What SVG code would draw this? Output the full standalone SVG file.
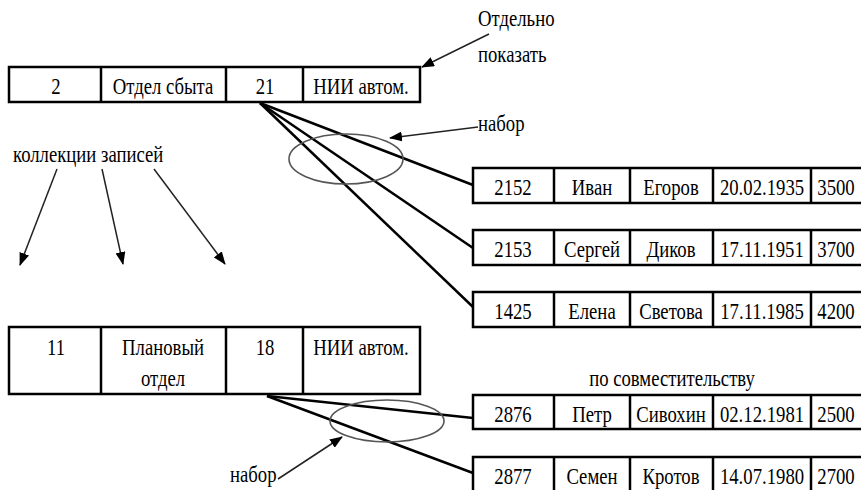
<svg xmlns="http://www.w3.org/2000/svg" width="861" height="490" viewBox="0 0 861 490" font-family="Liberation Serif, serif" font-size="24">
<style>
.cell{fill:#fff;stroke:#000;stroke-width:2.5}
.div{stroke:#000;stroke-width:2.5}
.t{text-anchor:middle;fill:#000}
.l{text-anchor:start;fill:#000}
.link{stroke:#000;stroke-width:2.5;fill:none}
.arr{stroke:#222;stroke-width:1.5;fill:none;marker-end:url(#ah)}
.ell{stroke:#555;stroke-width:1.6;fill:none}
</style>
<defs>
<marker id="ah" viewBox="0 0 13 10" refX="12" refY="5" markerWidth="13" markerHeight="10" markerUnits="userSpaceOnUse" orient="auto">
<path d="M0,0 L13,5 L0,10 z" fill="#000"/>
</marker>
</defs>
<rect width="861" height="490" fill="#fff"/>

<g id="connectors">
<line class="link" x1="260" y1="103" x2="473" y2="185"/>
<line class="link" x1="260" y1="103" x2="473" y2="248"/>
<line class="link" x1="260" y1="103" x2="473" y2="307"/>
<line class="link" x1="267" y1="396" x2="473" y2="418"/>
<line class="link" x1="267" y1="396" x2="473" y2="473"/>
<line class="arr" x1="489" y1="34" x2="422" y2="67"/>
<line class="arr" x1="478" y1="127" x2="390" y2="138"/>
<line class="arr" x1="57" y1="169" x2="20" y2="265"/>
<line class="arr" x1="102" y1="169" x2="123" y2="264"/>
<line class="arr" x1="154" y1="169" x2="225" y2="264"/>
<line class="arr" x1="278" y1="479" x2="342" y2="437"/>
</g>

<g id="set1">
<ellipse class="ell" cx="346" cy="159" rx="57" ry="25"/>
</g>
<g id="set2">
<ellipse class="ell" cx="387" cy="421" rx="57" ry="21"/>
</g>

<g id="labels" font-family="Liberation Serif, serif" font-size="24">
<text class="l" transform="translate(478,26) scale(0.78,1)">Отдельно</text>
<text class="l" transform="translate(478,62) scale(0.78,1)">показать</text>
<text class="l" transform="translate(478,131) scale(0.78,1)">набор</text>
<text class="l" transform="translate(13,162) scale(0.78,1)">коллекции записей</text>
<text class="t" transform="translate(672,386) scale(0.78,1)">по совместительству</text>
<text class="l" transform="translate(230,482) scale(0.78,1)">набор</text>
</g>

<g id="dept1" font-family="Liberation Serif, serif" font-size="24">
<rect class="cell" x="9" y="67" width="411" height="35"/>
<line class="div" x1="101" y1="67" x2="101" y2="102"/>
<line class="div" x1="226" y1="67" x2="226" y2="102"/>
<line class="div" x1="303" y1="67" x2="303" y2="102"/>
<text class="t" transform="translate(56,94) scale(0.78,1)">2</text>
<text class="t" transform="translate(163,94) scale(0.78,1)">Отдел сбыта</text>
<text class="t" transform="translate(265,94) scale(0.78,1)">21</text>
<text class="t" transform="translate(361,94) scale(0.78,1)">НИИ автом.</text>
</g>

<g id="dept2" font-family="Liberation Serif, serif" font-size="24">
<rect class="cell" x="9" y="327" width="411" height="67"/>
<line class="div" x1="101" y1="327" x2="101" y2="394"/>
<line class="div" x1="226" y1="327" x2="226" y2="394"/>
<line class="div" x1="303" y1="327" x2="303" y2="394"/>
<text class="t" transform="translate(56,355) scale(0.78,1)">11</text>
<text class="t" transform="translate(163,355) scale(0.78,1)">Плановый</text>
<text class="t" transform="translate(163,386) scale(0.78,1)">отдел</text>
<text class="t" transform="translate(265,355) scale(0.78,1)">18</text>
<text class="t" transform="translate(361,355) scale(0.78,1)">НИИ автом.</text>
</g>

<g id="emp1" font-family="Liberation Serif, serif" font-size="24">
<rect class="cell" x="473" y="168" width="400" height="35"/>
<line class="div" x1="554" y1="168" x2="554" y2="203"/>
<line class="div" x1="630" y1="168" x2="630" y2="203"/>
<line class="div" x1="713" y1="168" x2="713" y2="203"/>
<line class="div" x1="811" y1="168" x2="811" y2="203"/>
<text class="t" transform="translate(513,195) scale(0.78,1)">2152</text>
<text class="t" transform="translate(592,195) scale(0.78,1)">Иван</text>
<text class="t" transform="translate(671,195) scale(0.78,1)">Егоров</text>
<text class="t" transform="translate(762,195) scale(0.78,1)">20.02.1935</text>
<text class="t" transform="translate(836,195) scale(0.78,1)">3500</text>
</g>

<g id="emp2" font-family="Liberation Serif, serif" font-size="24">
<rect class="cell" x="473" y="230" width="400" height="35"/>
<line class="div" x1="554" y1="230" x2="554" y2="265"/>
<line class="div" x1="630" y1="230" x2="630" y2="265"/>
<line class="div" x1="713" y1="230" x2="713" y2="265"/>
<line class="div" x1="811" y1="230" x2="811" y2="265"/>
<text class="t" transform="translate(513,257) scale(0.78,1)">2153</text>
<text class="t" transform="translate(592,257) scale(0.78,1)">Сергей</text>
<text class="t" transform="translate(671,257) scale(0.78,1)">Диков</text>
<text class="t" transform="translate(762,257) scale(0.78,1)">17.11.1951</text>
<text class="t" transform="translate(836,257) scale(0.78,1)">3700</text>
</g>

<g id="emp3" font-family="Liberation Serif, serif" font-size="24">
<rect class="cell" x="473" y="292" width="400" height="35"/>
<line class="div" x1="554" y1="292" x2="554" y2="327"/>
<line class="div" x1="630" y1="292" x2="630" y2="327"/>
<line class="div" x1="713" y1="292" x2="713" y2="327"/>
<line class="div" x1="811" y1="292" x2="811" y2="327"/>
<text class="t" transform="translate(513,319) scale(0.78,1)">1425</text>
<text class="t" transform="translate(592,319) scale(0.78,1)">Елена</text>
<text class="t" transform="translate(671,319) scale(0.78,1)">Светова</text>
<text class="t" transform="translate(762,319) scale(0.78,1)">17.11.1985</text>
<text class="t" transform="translate(836,319) scale(0.78,1)">4200</text>
</g>

<g id="emp4" font-family="Liberation Serif, serif" font-size="24">
<rect class="cell" x="473" y="395" width="400" height="34"/>
<line class="div" x1="554" y1="395" x2="554" y2="429"/>
<line class="div" x1="630" y1="395" x2="630" y2="429"/>
<line class="div" x1="713" y1="395" x2="713" y2="429"/>
<line class="div" x1="811" y1="395" x2="811" y2="429"/>
<text class="t" transform="translate(513,422) scale(0.78,1)">2876</text>
<text class="t" transform="translate(592,422) scale(0.78,1)">Петр</text>
<text class="t" transform="translate(671,422) scale(0.78,1)">Сивохин</text>
<text class="t" transform="translate(762,422) scale(0.78,1)">02.12.1981</text>
<text class="t" transform="translate(836,422) scale(0.78,1)">2500</text>
</g>

<g id="emp5" font-family="Liberation Serif, serif" font-size="24">
<rect class="cell" x="473" y="457" width="400" height="40"/>
<line class="div" x1="554" y1="457" x2="554" y2="497"/>
<line class="div" x1="630" y1="457" x2="630" y2="497"/>
<line class="div" x1="713" y1="457" x2="713" y2="497"/>
<line class="div" x1="811" y1="457" x2="811" y2="497"/>
<text class="t" transform="translate(513,484) scale(0.78,1)">2877</text>
<text class="t" transform="translate(592,484) scale(0.78,1)">Семен</text>
<text class="t" transform="translate(671,484) scale(0.78,1)">Кротов</text>
<text class="t" transform="translate(762,484) scale(0.78,1)">14.07.1980</text>
<text class="t" transform="translate(836,484) scale(0.78,1)">2700</text>
</g>
</svg>
